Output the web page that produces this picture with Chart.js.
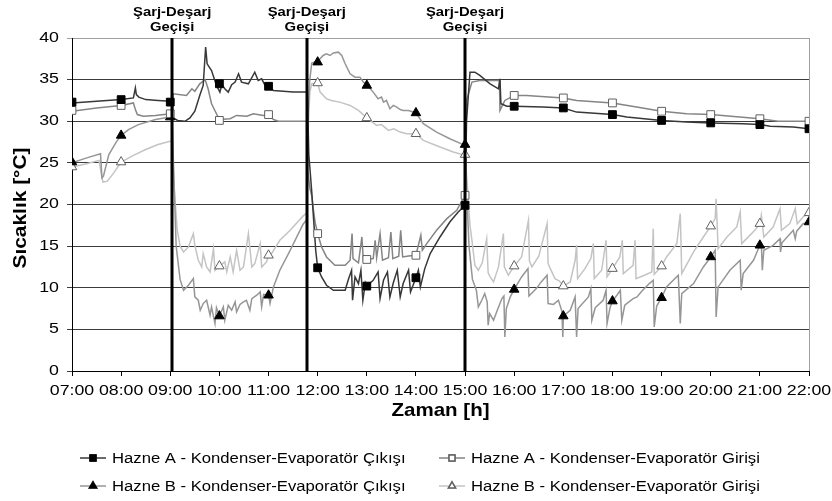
<!DOCTYPE html>
<html>
<head>
<meta charset="utf-8">
<script src="https://cdn.jsdelivr.net/npm/chart.js@4.4.0/dist/chart.umd.min.js"></script>
<style>
  html, body { margin: 0; padding: 0; background: #fff; }
  canvas { display: block; }
</style>
</head>
<body>
<canvas id="chart" width="832" height="501"></canvas>
<script>
// time in hours (7 = 07:00), temperature in °C
let hourLabels = ['07:00', '08:00', '09:00', '10:00', '11:00', '12:00', '13:00', '14:00',
  '15:00', '16:00', '17:00', '18:00', '19:00', '20:00', '21:00', '22:00'];
let markerHours = [7, 8, 9, 10, 11, 12, 13, 14, 15, 16, 17, 18, 19, 20, 21, 22];
let switchHours = [9.04, 11.78, 15.0];
let switchLabel = ['Şarj-Deşarj', 'Geçişi'];

let seriesNames = [
  'Hazne A - Kondenser-Evaporatör Çıkışı',
  'Hazne A - Kondenser-Evaporatör Girişi',
  'Hazne B - Kondenser-Evaporatör Çıkışı',
  'Hazne B - Kondenser-Evaporatör Girişi'
];

// hourly marker values
let aOutMk = [32.3, 32.6, 32.3, 34.5, 34.2, 12.4, 10.2, 11.2, 19.9, 31.8, 31.6, 30.8, 30.1, 29.8, 29.6, 29.1];
let aInMk = [31.3, 31.9, 30.9, 30.1, 30.8, 16.5, 13.4, 13.9, 21.1, 33.1, 32.8, 32.2, 31.2, 30.8, 30.3, 30.0];
let bOutMk = [25.1, 28.3, 30.5, 6.6, 9.1, 37.1, 34.3, 31.0, 27.2, 9.8, 6.6, 8.4, 8.8, 13.7, 15.1, 17.9];
let bInMk = [24.5, 25.1, null, 12.6, 13.9, 34.6, 30.4, 28.5, 26.0, 12.6, 10.2, 12.3, 12.6, 17.4, 17.7, 19.0];

// measured curves [hour, °C]
let aOut = [
  [7.0, 32.2], [7.5, 32.4], [8.0, 32.6], [8.25, 32.8], [8.29, 34.0], [8.31, 33.2], [8.36, 32.9], [8.5, 32.6], [8.75, 32.5], [9.0, 32.4], [9.04, 32.4],
  [9.06, 30.4], [9.15, 30.1], [9.3, 30.0], [9.4, 30.4], [9.5, 31.2], [9.6, 33.1], [9.67, 34.3], [9.72, 38.9], [9.75, 36.9], [9.84, 36.1],
  [9.94, 34.3], [10.01, 33.5], [10.05, 34.4], [10.11, 33.9], [10.18, 33.5], [10.25, 34.4], [10.32, 34.7], [10.39, 35.7], [10.45, 34.7],
  [10.59, 34.5], [10.72, 35.9], [10.79, 34.9], [10.86, 35.1], [10.93, 34.3], [11.0, 34.1], [11.1, 33.7], [11.3, 33.6], [11.5, 33.5], [11.79, 33.5],
  [11.82, 26.0], [11.88, 21.5], [11.92, 18.0], [11.96, 14.5], [12.0, 12.4], [12.08, 11.3], [12.18, 10.3], [12.32, 9.7], [12.56, 9.7],
  [12.62, 10.9], [12.69, 12.1], [12.71, 8.5], [12.76, 11.3], [12.83, 10.5], [12.88, 12.1], [12.92, 8.5], [12.97, 10.6], [13.0, 10.2],
  [13.13, 10.9], [13.23, 11.9], [13.27, 8.7], [13.34, 10.9], [13.42, 11.9], [13.47, 8.9], [13.54, 10.6], [13.62, 12.1], [13.68, 8.9],
  [13.74, 10.5], [13.85, 12.1], [13.89, 9.5], [14.0, 11.2], [14.05, 12.1], [14.09, 10.1], [14.18, 12.3], [14.29, 14.1], [14.49, 16.1],
  [14.69, 17.9], [14.86, 19.1], [15.0, 19.9],
  [15.03, 30.0], [15.1, 35.9], [15.2, 35.9], [15.3, 35.5], [15.51, 34.5], [15.68, 33.9], [15.71, 35.1], [15.73, 32.1], [15.85, 31.8],
  [16.0, 31.8], [16.59, 31.7], [17.0, 31.6], [17.27, 31.1], [18.0, 30.8], [18.29, 30.5], [19.0, 30.1], [19.51, 29.9], [20.0, 29.8],
  [20.66, 29.7], [21.0, 29.6], [21.21, 29.4], [21.68, 29.3], [22.0, 29.1]
];

let aIn = [
  [7.0, 31.2], [7.5, 31.6], [8.0, 31.9], [8.25, 32.2], [8.29, 31.4], [8.33, 30.8], [8.45, 30.6], [8.7, 30.7], [9.0, 30.9], [9.04, 30.9],
  [9.06, 33.3], [9.33, 33.1], [9.44, 33.9], [9.5, 33.6], [9.6, 34.5], [9.71, 35.0], [9.77, 33.9], [9.84, 32.1], [9.94, 30.9], [10.0, 30.2],
  [10.22, 30.3], [10.35, 30.7], [10.56, 30.6], [10.69, 30.9], [10.89, 30.7], [11.0, 30.8], [11.1, 30.2], [11.2, 30.0], [11.5, 30.0], [11.78, 30.0],
  [11.8, 24.0], [11.84, 22.0], [11.88, 21.0], [11.91, 19.5], [11.95, 17.8], [12.0, 16.5], [12.08, 14.9], [12.18, 13.7], [12.35, 12.7],
  [12.56, 12.7], [12.66, 13.3], [12.7, 16.5], [12.72, 13.5], [12.83, 13.0], [12.9, 16.1], [12.93, 13.3], [13.0, 13.4], [13.13, 13.5],
  [13.17, 15.7], [13.2, 13.6], [13.27, 16.5], [13.32, 13.3], [13.44, 13.6], [13.49, 16.7], [13.53, 13.5], [13.65, 13.8], [13.69, 16.9],
  [13.73, 13.7], [13.85, 13.8], [14.0, 13.9], [14.1, 16.3], [14.13, 14.5], [14.22, 15.3], [14.42, 16.9], [14.63, 18.3], [14.83, 19.3], [15.0, 21.1],
  [15.03, 32.5], [15.07, 33.3], [15.14, 34.7], [15.3, 34.9], [15.7, 34.9], [15.71, 31.3], [15.81, 32.5], [16.0, 33.1], [16.25, 33.1],
  [17.0, 32.8], [17.27, 32.5], [18.0, 32.2], [18.49, 31.7], [19.0, 31.2], [19.51, 30.9], [20.0, 30.8], [21.0, 30.3], [21.37, 30.0], [22.0, 30.0]
];

let bOut = [
  [7.0, 25.0], [7.3, 25.6], [7.58, 26.1], [7.61, 23.2], [7.64, 23.4], [7.75, 26.0], [7.9, 27.5], [8.0, 28.3], [8.15, 29.0], [8.35, 29.6],
  [8.7, 30.2], [9.0, 30.5], [9.04, 30.5],
  [9.07, 24.0], [9.12, 15.0], [9.2, 11.0], [9.27, 9.7], [9.37, 10.3], [9.47, 11.1], [9.5, 8.9], [9.57, 8.5], [9.61, 7.3], [9.67, 8.1],
  [9.74, 8.5], [9.81, 6.7], [9.84, 7.7], [9.91, 5.7], [9.94, 7.6], [10.0, 6.6], [10.08, 7.7], [10.11, 6.1], [10.18, 7.9], [10.25, 7.3],
  [10.32, 8.3], [10.35, 7.1], [10.42, 8.0], [10.49, 8.3], [10.55, 8.5], [10.62, 7.3], [10.66, 8.7], [10.76, 9.1], [10.83, 9.5], [10.86, 7.7],
  [10.9, 9.2], [11.0, 9.1], [11.03, 8.1], [11.1, 10.1], [11.23, 12.1], [11.44, 14.5], [11.7, 17.6], [11.78, 18.2],
  [11.8, 30.0], [11.84, 35.0], [11.88, 37.0], [12.0, 37.2], [12.05, 37.5], [12.11, 37.9], [12.18, 38.1], [12.25, 37.9], [12.32, 38.2],
  [12.42, 38.3], [12.49, 37.9], [12.56, 36.9], [12.66, 35.7], [12.76, 35.3], [12.86, 35.3], [12.93, 34.7], [13.0, 34.4], [13.13, 33.5],
  [13.23, 32.7], [13.3, 32.9], [13.34, 32.3], [13.4, 32.5], [13.47, 31.5], [13.54, 31.9], [13.61, 31.7], [13.68, 31.4], [13.74, 31.3],
  [13.85, 31.3], [14.0, 31.0], [14.15, 29.7], [14.42, 28.7], [14.69, 27.9], [15.0, 27.1],
  [15.03, 22.0], [15.08, 15.0], [15.15, 11.0], [15.23, 9.7], [15.27, 7.7], [15.34, 8.5], [15.4, 9.3], [15.45, 8.3], [15.47, 5.5], [15.5, 6.9],
  [15.58, 6.1], [15.65, 7.2], [15.75, 8.7], [15.79, 9.0], [15.81, 4.1], [15.84, 7.5], [15.92, 8.9], [16.0, 9.8], [16.15, 11.3], [16.28, 12.3],
  [16.3, 9.0], [16.45, 9.9], [16.55, 10.7], [16.67, 11.5], [16.69, 8.1], [16.8, 8.0], [16.9, 8.5], [16.97, 7.2], [16.99, 4.1], [17.0, 6.6],
  [17.14, 7.3], [17.24, 8.9], [17.27, 4.1], [17.3, 7.5], [17.51, 8.9], [17.56, 9.9], [17.58, 6.1], [17.65, 7.6], [17.81, 8.5], [17.87, 9.7],
  [17.89, 5.7], [17.95, 7.6], [18.0, 8.4], [18.09, 9.1], [18.16, 9.7], [18.19, 6.1], [18.25, 7.9], [18.42, 8.7], [18.5, 8.9], [18.6, 9.6],
  [18.75, 10.5], [18.83, 10.9], [18.85, 5.3], [18.9, 7.8], [19.0, 8.8], [19.1, 10.1], [19.34, 11.5], [19.38, 5.7], [19.41, 9.3], [19.65, 10.5],
  [19.85, 12.5], [20.0, 13.7], [20.09, 14.5], [20.11, 6.5], [20.15, 10.1], [20.39, 12.1], [20.6, 13.3], [20.62, 9.7], [20.66, 11.7],
  [20.87, 13.3], [21.0, 15.1], [21.03, 15.3], [21.05, 12.1], [21.08, 14.5], [21.27, 15.1], [21.41, 15.9], [21.42, 14.3], [21.45, 15.4],
  [21.68, 16.9], [21.72, 15.9], [21.75, 16.8], [21.88, 17.7], [22.0, 17.9]
];

let bIn = [
  [7.0, 24.5], [7.3, 24.9], [7.55, 25.3], [7.6, 23.5], [7.63, 22.7], [7.72, 22.8], [7.85, 23.8], [8.0, 25.1], [8.25, 25.9], [8.5, 26.6],
  [8.75, 27.2], [9.0, 27.6], [9.04, 27.7],
  [9.08, 22.0], [9.14, 17.0], [9.2, 15.0], [9.27, 14.3], [9.37, 14.9], [9.47, 16.5], [9.5, 15.1], [9.57, 13.3], [9.64, 12.5], [9.67, 14.1],
  [9.74, 12.5], [9.81, 11.9], [9.88, 14.7], [9.91, 12.1], [10.0, 12.6], [10.11, 13.1], [10.15, 11.9], [10.22, 13.7], [10.28, 11.9],
  [10.35, 14.5], [10.42, 12.1], [10.49, 12.5], [10.59, 16.5], [10.66, 12.5], [10.72, 12.9], [10.83, 15.3], [10.86, 12.5], [10.96, 13.1],
  [11.0, 13.9], [11.06, 14.1], [11.23, 15.7], [11.44, 16.9], [11.7, 18.6], [11.78, 19.0],
  [11.8, 28.0], [11.84, 33.5], [11.88, 34.5], [12.0, 34.6], [12.05, 33.5], [12.18, 32.7], [12.28, 32.5], [12.45, 32.3], [12.66, 31.9],
  [12.83, 31.3], [13.0, 30.4], [13.2, 29.5], [13.3, 29.6], [13.44, 28.9], [13.55, 29.1], [13.68, 28.7], [13.81, 28.5], [14.0, 28.5],
  [14.15, 27.7], [14.49, 26.9], [14.76, 26.3], [15.0, 25.9],
  [15.04, 22.9], [15.1, 17.5], [15.14, 15.7], [15.2, 12.7], [15.27, 12.1], [15.35, 13.0], [15.44, 15.9], [15.47, 11.8], [15.51, 11.3],
  [15.58, 10.7], [15.68, 12.5], [15.78, 16.5], [15.8, 12.5], [15.88, 11.5], [16.0, 12.6], [16.15, 13.7], [16.29, 18.1], [16.31, 13.2],
  [16.36, 12.5], [16.5, 13.8], [16.67, 17.7], [16.69, 12.9], [16.72, 12.5], [16.83, 11.1], [16.92, 10.8], [17.0, 10.2], [17.14, 10.7],
  [17.24, 13.3], [17.27, 15.1], [17.29, 11.1], [17.44, 12.3], [17.56, 13.5], [17.61, 15.3], [17.63, 11.1], [17.78, 12.1], [17.87, 15.7],
  [17.89, 11.3], [18.0, 12.3], [18.15, 13.7], [18.2, 15.7], [18.22, 11.7], [18.42, 12.7], [18.46, 15.7], [18.48, 11.1], [18.65, 11.5],
  [18.8, 11.9], [18.83, 17.1], [18.85, 11.6], [19.0, 12.6], [19.1, 13.7], [19.31, 15.3], [19.38, 18.9], [19.41, 11.7], [19.65, 14.3],
  [19.85, 16.1], [20.0, 17.4], [20.09, 18.3], [20.11, 20.7], [20.15, 14.7], [20.33, 16.1], [20.53, 17.3], [20.6, 19.1], [20.63, 15.3],
  [20.83, 16.5], [21.0, 17.6], [21.03, 18.7], [21.08, 16.1], [21.27, 17.3], [21.41, 19.5], [21.44, 16.9], [21.61, 17.7], [21.72, 19.5],
  [21.76, 17.7], [21.88, 18.5], [22.0, 19.0]
];

let lineColors = ['#383838', '#858585', '#969696', '#c4c4c4'];
let markerFill = ['#000', '#fff', '#000', '#fff'];
let markerEdge = ['#000', '#606060', '#000', '#606060'];
let markerShape = ['rect', 'rect', 'triangle', 'triangle'];
let markerSize = [5.5, 5.5, 5.5, 5.5];

const FONT = "'Liberation Sans', Arial, sans-serif";

function toXY(arr) {
  return arr.map(p => ({ x: p[0], y: p[1] }));
}
function markersXY(vals) {
  return markerHours.map((h, i) => ({ x: h, y: vals[i] }));
}

// the source picture has its text stretched sideways
function wideText(c, txt, x, y, font, align, sx) {
  c.save();
  c.font = font;
  c.textAlign = align;
  c.textBaseline = 'middle';
  c.translate(x, y);
  c.scale(sx, 1);
  c.fillText(txt, 0, 0);
  c.restore();
}

let curves = [aOut, aIn, bOut, bIn];
let marks = [aOutMk, aInMk, bOutMk, bInMk];
let datasets = [];
curves.forEach((c, i) => {
  datasets.push({
    label: seriesNames[i],
    data: toXY(c),
    borderColor: lineColors[i],
    borderWidth: 1.5,
    pointRadius: 0,
    fill: false,
    tension: 0,
    order: i + 1
  });
});
marks.forEach((m, i) => {
  datasets.push({
    label: seriesNames[i] + ' marker',
    data: markersXY(m),
    showLine: false,
    pointStyle: markerShape[i],
    pointRadius: markerSize[i],
    pointBackgroundColor: markerFill[i],
    pointBorderColor: markerEdge[i],
    pointBorderWidth: 1,
    order: 0
  });
});

// thick vertical lines, tick labels, titles, annotations and legend
let decorPlugin = {
  id: 'decor',
  afterDatasetsDraw(chart) {
    let c = chart.ctx, xs = chart.scales.x, ys = chart.scales.y, a = chart.chartArea;
    c.save();
    c.strokeStyle = '#000';
    c.lineWidth = 3;
    switchHours.forEach(h => {
      let px = Math.round(xs.getPixelForValue(h));
      c.beginPath();
      c.moveTo(px, ys.getPixelForValue(0));
      c.lineTo(px, ys.getPixelForValue(40));
      c.stroke();
    });
    c.strokeStyle = '#a0a0a0';
    c.lineWidth = 1;
    c.beginPath();
    c.moveTo(a.right + 0.5, a.top);
    c.lineTo(a.right + 0.5, a.bottom);
    c.stroke();
    c.restore();
  },
  afterDraw(chart) {
    let c = chart.ctx, xs = chart.scales.x, ys = chart.scales.y, a = chart.chartArea;
    c.save();
    c.fillStyle = '#000';

    xs.ticks.forEach(t => {
      let lbl = hourLabels[Math.round(t.value) - 7];
      if (lbl) wideText(c, lbl, xs.getPixelForValue(t.value), 391, '14px ' + FONT, 'center', 1.27);
    });
    ys.ticks.forEach(t => {
      wideText(c, String(t.value), 59, ys.getPixelForValue(t.value), '14px ' + FONT, 'right', 1.27);
    });

    switchHours.forEach(h => {
      let px = xs.getPixelForValue(h);
      wideText(c, switchLabel[0], px, 12, 'bold 13px ' + FONT, 'center', 1.14);
      wideText(c, switchLabel[1], px, 27, 'bold 13px ' + FONT, 'center', 1.14);
    });
    wideText(c, 'Zaman [h]', (a.left + a.right) / 2, 411, 'bold 19px ' + FONT, 'center', 1.08);

    c.save();
    c.translate(21, 208);
    c.rotate(-Math.PI / 2);
    wideText(c, 'Sıcaklık [°C]', 0, 0, 'bold 19px ' + FONT, 'center', 1.1);
    c.restore();

    // legend
    let cols = [80, 439], rows = [458, 486];
    for (let i = 0; i < 4; i++) {
      let x0 = cols[i % 2], y0 = rows[Math.floor(i / 2)];
      c.strokeStyle = lineColors[i];
      c.lineWidth = 1.5;
      c.beginPath();
      c.moveTo(x0, y0);
      c.lineTo(x0 + 26, y0);
      c.stroke();
      Chart.helpers.drawPoint(c, { pointStyle: markerShape[i], radius: 4.2, borderWidth: 1 }, x0 + 13, y0);
      c.fillStyle = markerFill[i];
      c.strokeStyle = markerEdge[i];
      c.fill();
      c.stroke();
      c.fillStyle = '#000';
      wideText(c, seriesNames[i], x0 + 32, y0 + 1, '14px ' + FONT, 'left', 1.19);
    }
    c.restore();
  }
};

new Chart(document.getElementById('chart'), {
  type: 'line',
  data: { datasets: datasets },
  options: {
    responsive: false,
    animation: false,
    devicePixelRatio: 1,
    layout: { padding: { top: 38, right: 23, left: 0, bottom: 0 } },
    plugins: { legend: { display: false }, tooltip: { enabled: false } },
    scales: {
      x: {
        type: 'linear',
        min: 7,
        max: 22,
        ticks: { stepSize: 1, autoSkip: false, maxRotation: 0, display: false },
        grid: { drawOnChartArea: false, drawTicks: true, tickLength: 5, color: '#000' },
        border: { color: '#000', width: 1 },
        afterFit: s => { s.height = 130; }
      },
      y: {
        min: 0,
        max: 40,
        ticks: { stepSize: 5, display: false },
        grid: {
          tickLength: 5,
          color: ctx => (ctx.tick && ctx.tick.value === 40) ? '#a0a0a0' : '#3c3c3c'
        },
        border: { color: '#000', width: 1 },
        afterFit: s => { s.width = 72; }
      }
    }
  },
  plugins: [decorPlugin]
});
</script>
</body>
</html>
